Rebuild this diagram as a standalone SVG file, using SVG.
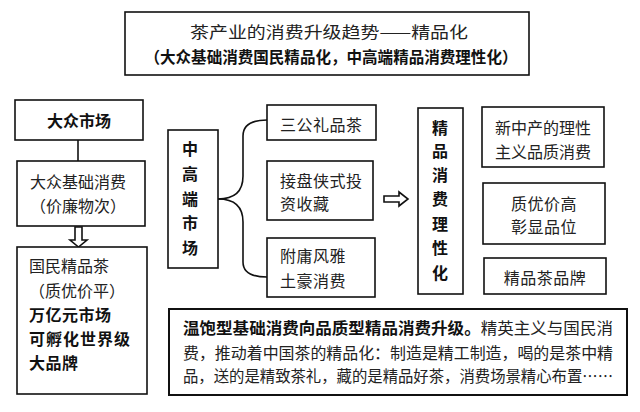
<svg xmlns="http://www.w3.org/2000/svg" width="640" height="412" viewBox="0 0 640 412">
<style>
rect{fill:#fff;stroke:#111;stroke-width:1.6}
text{font-family:"Noto Sans CJK SC","Noto Sans CJK JP",sans-serif;fill:#222;font-size:16px;dominant-baseline:central}
.b{font-weight:bold;fill:#111}
.m{text-anchor:middle}
.c{fill:none;stroke:#111;stroke-width:1.6}
</style>
<rect x="0" y="0" width="640" height="412" style="stroke:none"/>
<g id="title">
<rect x="125" y="12" width="404" height="63"/>
<text x="329" y="31" class="m" font-size="18" textLength="278" lengthAdjust="spacingAndGlyphs">茶产业的消费升级趋势——精品化</text>
<text x="331" y="56" class="m b" font-size="15" textLength="373" lengthAdjust="spacingAndGlyphs">（大众基础消费国民精品化，中高端精品消费理性化）</text>
</g>
<g id="connectors">
<line class="c" x1="78" y1="140" x2="78" y2="161"/>
<polygon class="c" points="75,227 82,227 82,240 87,240 78.5,247 70,240 75,240"/>
<path class="c" d="M218,199 Q243,199 243,176 L243,136 Q243,120 267,120"/>
<path class="c" d="M218,199 Q243,199 243,222 L243,262 Q243,277 267,277"/>
<polygon class="c" points="384,196 399,196 399,192 408,199 399,206 399,202 384,202"/>
</g>
<g id="mass-market">
<rect x="15" y="100" width="128" height="40"/>
<text x="79" y="120" class="m b">大众市场</text>
</g>
<g id="mass-basic">
<rect x="17" y="161" width="128" height="65"/>
<text x="30" y="181">大众基础消费</text>
<text x="30" y="205">（价廉物次）</text>
</g>
<g id="national-tea">
<rect x="17" y="247" width="130" height="147"/>
<text x="29" y="265">国民精品茶</text>
<text x="29" y="290">（质优价平）</text>
<text x="29" y="314" class="b" letter-spacing="0.5">万亿元市场</text>
<text x="29" y="338" class="b" letter-spacing="1">可孵化世界级</text>
<text x="29" y="362" class="b" letter-spacing="0.5">大品牌</text>
</g>
<g id="high-market">
<rect x="168" y="130" width="50" height="138"/>
<text x="190" y="148" class="m b">中</text>
<text x="190" y="173" class="m b">高</text>
<text x="190" y="198" class="m b">端</text>
<text x="190" y="222" class="m b">市</text>
<text x="190" y="247" class="m b">场</text>
</g>
<g id="gift-tea">
<rect x="267" y="105" width="109" height="35"/>
<text x="280" y="124" letter-spacing="0.5">三公礼品茶</text>
</g>
<g id="invest">
<rect x="267" y="161" width="106" height="59"/>
<text x="280" y="180" letter-spacing="0.5">接盘侠式投</text>
<text x="280" y="203" letter-spacing="0.5">资收藏</text>
</g>
<g id="rich">
<rect x="267" y="238" width="108" height="59"/>
<text x="280" y="255" letter-spacing="0.5">附庸风雅</text>
<text x="280" y="280" letter-spacing="0.5">土豪消费</text>
</g>
<g id="rational">
<rect x="418" y="108" width="45" height="186"/>
<text x="440" y="127" class="m b">精</text>
<text x="440" y="150" class="m b">品</text>
<text x="440" y="174" class="m b">消</text>
<text x="440" y="198" class="m b">费</text>
<text x="440" y="223" class="m b">理</text>
<text x="440" y="247" class="m b">性</text>
<text x="440" y="272" class="m b">化</text>
</g>
<g id="middle-class">
<rect x="482" y="107" width="122" height="60"/>
<text x="543" y="127" class="m">新中产的理性</text>
<text x="543" y="151" class="m">主义品质消费</text>
</g>
<g id="quality">
<rect x="483" y="183" width="122" height="61"/>
<text x="544" y="203" class="m" letter-spacing="0.5">质优价高</text>
<text x="544" y="226" class="m" letter-spacing="0.5">彰显品位</text>
</g>
<g id="brand">
<rect x="484" y="258" width="122" height="36"/>
<text x="545" y="277" class="m" letter-spacing="0.5">精品茶品牌</text>
</g>
<g id="summary">
<rect x="169" y="309" width="458" height="86" style="stroke-width:2"/>
<text x="183" y="327" textLength="430" lengthAdjust="spacingAndGlyphs"><tspan class="b">温饱型基础消费向品质型精品消费升级。</tspan>精英主义与国民消</text>
<text x="183" y="352" textLength="430" lengthAdjust="spacingAndGlyphs">费，推动着中国茶的精品化：制造是精工制造，喝的是茶中精</text>
<text x="183" y="375" textLength="430" lengthAdjust="spacingAndGlyphs">品，送的是精致茶礼，藏的是精品好茶，消费场景精心布置……</text>
</g>
</svg>
